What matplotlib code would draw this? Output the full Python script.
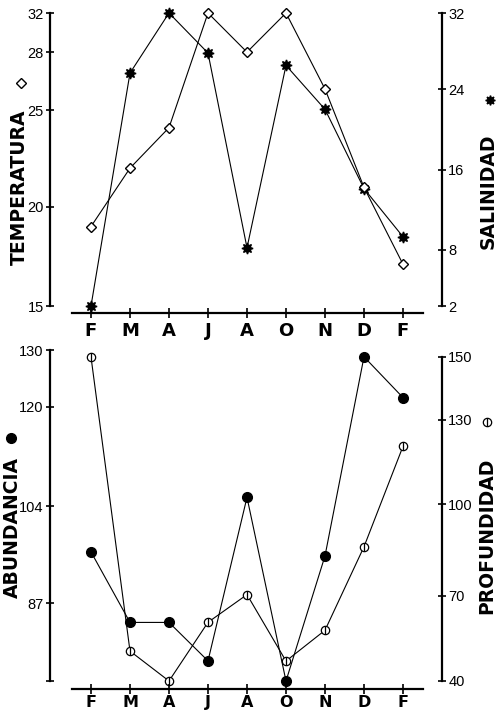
import numpy as np
import matplotlib.pyplot as plt
from matplotlib.lines import Line2D

# monthly samples, F to F
months = ['F', 'M', 'A', 'J', 'A', 'O', 'N', 'D', 'F']

temperatura = [19.0, 22.0, 24.1, 32.0, 28.0, 32.0, 26.1, 21.0, 17.1]
salinidad = [2.0, 25.7, 32.0, 27.8, 8.2, 26.5, 22.0, 14.1, 9.3]
abundancia = [96.0, 83.7, 83.7, 77.0, 105.4, 73.5, 95.3, 128.8, 121.6]
profundidad = [150.0, 50.5, 40.0, 60.6, 70.3, 47.0, 57.8, 86.0, 120.5]

temp_ticks = [15, 20, 25, 28, 32]
sal_ticks = [2, 8, 16, 24, 32]
abun_ticks = [73.5, 87, 104, 120, 130]
abun_labels = ['', '87', '104', '120', '130']
prof_ticks = [40, 70, 100, 130, 150]

W, H = 497, 715


def fx(x):
    return x / W


def fy(y):
    return 1 - y / H


# the original axes are hand drawn and not linear: piecewise scales
def knot_scale(vals, heights):
    vals = np.asarray(vals, float)
    heights = np.asarray(heights, float)
    return (lambda v: np.interp(v, vals, heights),
            lambda p: np.interp(p, heights, vals))


plt.rcParams['font.family'] = 'Liberation Sans'
fig = plt.figure(figsize=(W / 100, H / 100), dpi=100)

x = np.arange(len(months))
line_kw = dict(color='black', lw=0.8, clip_on=False, zorder=3)
label_font = dict(family='DejaVu Sans', weight='bold', size=13.5)
star = (8, 1, 0)


def style_axes(ax, ax2, xpad):
    ax.set_xlim(-0.5, 8.5)
    ax.set_xticks(x)
    for a in (ax, ax2):
        for s in a.spines.values():
            s.set_visible(False)
    ax.spines['left'].set_visible(True)
    ax.spines['bottom'].set_visible(True)
    ax2.spines['right'].set_visible(True)
    ax.spines['left'].set_position(('outward', 15.5))
    ax2.spines['right'].set_position(('outward', 14))
    for s in (ax.spines['left'], ax.spines['bottom'], ax2.spines['right']):
        s.set_linewidth(1.6)
    ax.tick_params(axis='x', direction='inout', length=7, width=1.2, pad=xpad)
    ax.tick_params(axis='y', direction='inout', length=6, width=1.2,
                   labelsize=10.5, pad=1.5)
    ax2.tick_params(axis='y', direction='inout', length=6, width=1.2,
                    labelsize=10.5, pad=1.5)


# ---- top panel: temperatura / salinidad
ax1 = fig.add_axes([fx(71.5), fy(306), 351 / W, 293 / H])
ax1b = ax1.twinx()
ax1.set_yscale('function', functions=knot_scale(temp_ticks, [0, 99, 195, 253, 292]))
ax1b.set_yscale('function', functions=knot_scale(sal_ticks, [1, 57, 137, 217, 293]))
ax1.set_ylim(15, 32)
ax1b.set_ylim(2, 32)
ax1.set_yticks(temp_ticks)
ax1b.set_yticks(sal_ticks)
ax1.minorticks_off()
ax1b.minorticks_off()
style_axes(ax1, ax1b, 2.8)
ax1.spines['bottom'].set_position(('outward', 5))

ax1b.plot(x, salinidad, marker=star, ms=8, mfc='black', mec='black', **line_kw)
ax1.plot(x, temperatura, marker='D', ms=5, mfc='white', mec='black', mew=1.0, **line_kw)
ax1.set_zorder(ax1b.get_zorder() + 1)
ax1.patch.set_visible(False)

# ---- bottom panel: abundancia / profundidad
ax2 = fig.add_axes([fx(71.5), fy(681), 351 / W, 331 / H])
ax2b = ax2.twinx()
ax2.set_yscale('function', functions=knot_scale(abun_ticks, [0, 78, 176, 276, 333]))
ax2b.set_yscale('function',
                functions=knot_scale(prof_ticks + [152.2], [0, 86, 178, 263, 326, 333]))
ax2.set_ylim(73.5, 130)
ax2b.set_ylim(40, 152.2)
ax2.set_yticks(abun_ticks)
ax2.set_yticklabels(abun_labels)
ax2b.set_yticks(prof_ticks)
ax2.minorticks_off()
ax2b.minorticks_off()
style_axes(ax2, ax2b, 0.8)
ax2.spines['bottom'].set_position(('outward', 5.8))
ax2b.spines['right'].set_bounds(40, 150)

ax2b.plot(x, profundidad, marker='o', ms=6, mfc='white', mec='black', mew=0.9, **line_kw)
ax2b.plot(x, profundidad, ls='none', marker='|', ms=6, mec='black', mew=0.9,
          clip_on=False, zorder=4)
ax2.plot(x, abundancia, marker='o', ms=7, mfc='black', mec='black', **line_kw)
ax2.set_zorder(ax2b.get_zorder() + 1)
ax2.patch.set_visible(False)

# month labels last, so nothing resets their font
ax1.set_xticklabels(months, fontfamily='DejaVu Sans', fontweight='bold', fontsize=13)
ax2.set_xticklabels(months, fontfamily='DejaVu Sans', fontweight='bold', fontsize=11.5)

# ---- rotated axis titles with their symbols
fig.text(fx(19), fy(187), 'TEMPERATURA', rotation=90, ha='center', va='center', **label_font)
fig.add_artist(Line2D([fx(21)], [fy(83)], marker='D', ms=5, mfc='white', mec='black',
                      mew=1.0, transform=fig.transFigure))
fig.text(fx(488), fy(191), 'SALINIDAD', rotation=90, ha='center', va='center', **label_font)
fig.add_artist(Line2D([fx(490)], [fy(100)], marker=star, ms=7, mfc='black', mec='black',
                      transform=fig.transFigure))
fig.text(fx(12), fy(528), 'ABUNDANCIA', rotation=90, ha='center', va='center', **label_font)
fig.add_artist(Line2D([fx(11)], [fy(438)], marker='o', ms=7, mfc='black', mec='black',
                      transform=fig.transFigure))
fig.text(fx(487), fy(536), 'PROFUNDIDAD', rotation=90, ha='center', va='center', **label_font)
fig.add_artist(Line2D([fx(487)], [fy(422)], marker='o', ms=6, mfc='white', mec='black',
                      mew=0.9, transform=fig.transFigure))
fig.add_artist(Line2D([fx(487)], [fy(422)], marker='|', ms=6, mec='black', mew=0.9,
                      transform=fig.transFigure))

fig.savefig('out.png', dpi=100)
